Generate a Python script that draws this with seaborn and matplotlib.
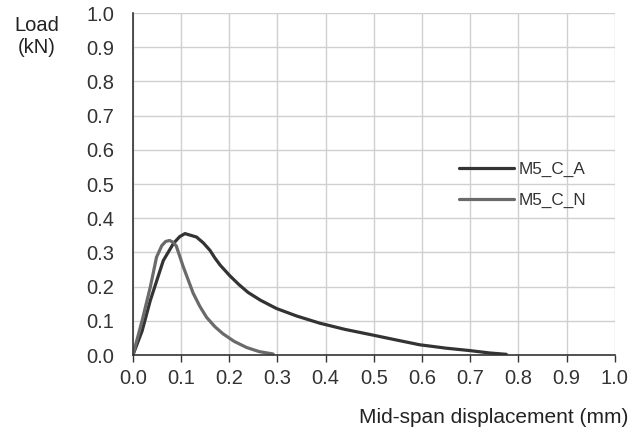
import pandas as pd
import matplotlib
matplotlib.use("Agg")
import matplotlib.pyplot as plt
import seaborn as sns

# Load-displacement curves
disp_a = [0.0, 0.019, 0.036, 0.063, 0.084, 0.097, 0.108, 0.120, 0.132, 0.146,
          0.160, 0.170, 0.181, 0.201, 0.220, 0.239, 0.265, 0.298, 0.340, 0.388,
          0.440, 0.499, 0.550, 0.595, 0.650, 0.699, 0.740, 0.775]
load_a = [0.0, 0.070, 0.159, 0.276, 0.326, 0.346, 0.355, 0.350, 0.345, 0.328,
          0.306, 0.284, 0.263, 0.232, 0.206, 0.183, 0.160, 0.136, 0.114, 0.093,
          0.075, 0.058, 0.043, 0.030, 0.020, 0.013, 0.006, 0.002]

disp_n = [0.0, 0.019, 0.036, 0.049, 0.060, 0.068, 0.076, 0.083, 0.090, 0.104,
          0.125, 0.139, 0.153, 0.170, 0.187, 0.210, 0.236, 0.262, 0.291]
load_n = [0.0, 0.100, 0.198, 0.286, 0.320, 0.332, 0.335, 0.330, 0.319, 0.260,
          0.181, 0.142, 0.110, 0.083, 0.062, 0.040, 0.022, 0.010, 0.003]

df = pd.concat([
    pd.DataFrame({"disp": disp_a, "load": load_a, "specimen": "M5_C_A"}),
    pd.DataFrame({"disp": disp_n, "load": load_n, "specimen": "M5_C_N"}),
])

sns.set_style("white")
plt.rcParams['font.family'] = ['Liberation Sans', 'DejaVu Sans']

fig = plt.figure(figsize=(6.39, 4.34), dpi=100)
ax = fig.add_axes([0.208, 0.182, 0.754, 0.788])

sns.lineplot(data=df, x="disp", y="load", hue="specimen", sort=False,
             palette={"M5_C_A": "#333333", "M5_C_N": "#6a6a6a"},
             linewidth=2.3, ax=ax, estimator=None)

ax.set_xlim(0, 1.0)
ax.set_ylim(0, 1.0)
ax.set_xticks([i / 10 for i in range(11)])
ax.set_yticks([i / 10 for i in range(11)])
ax.xaxis.set_major_formatter(matplotlib.ticker.FormatStrFormatter('%.1f'))
ax.yaxis.set_major_formatter(matplotlib.ticker.FormatStrFormatter('%.1f'))
ax.grid(True, color="#d0d0d0", linewidth=1)
ax.set_axisbelow(True)

for s in ["top", "right"]:
    ax.spines[s].set_visible(False)
ax.spines["left"].set_color("#333333")
ax.spines["bottom"].set_color("#333333")
ax.spines["left"].set_linewidth(1.2)
ax.spines["bottom"].set_linewidth(1.2)

ax.tick_params(axis="x", bottom=True, direction="out", length=5, width=1,
               color="#333333", labelsize=14.5, labelcolor="#333333", pad=5)
ax.tick_params(axis="y", left=False, labelsize=14.5, labelcolor="#333333", pad=10)

ax.set_xlabel("")
ax.set_ylabel("")
fig.text(0.058, 0.962, "Load\n(kN)", ha="center", va="top", fontsize=14.5,
         color="#222222", linespacing=1.15)
fig.text(0.983, 0.037, "Mid-span displacement (mm)", ha="right", va="center",
         fontsize=15, color="#222222")

leg = ax.legend(title=None, frameon=False, loc="center left",
                bbox_to_anchor=(0.645, 0.497), fontsize=12.3, handlelength=3.2,
                handletextpad=0.3, labelspacing=0.9)
for t in leg.get_texts():
    t.set_color("#333333")

plt.savefig("out.png", dpi=100)
